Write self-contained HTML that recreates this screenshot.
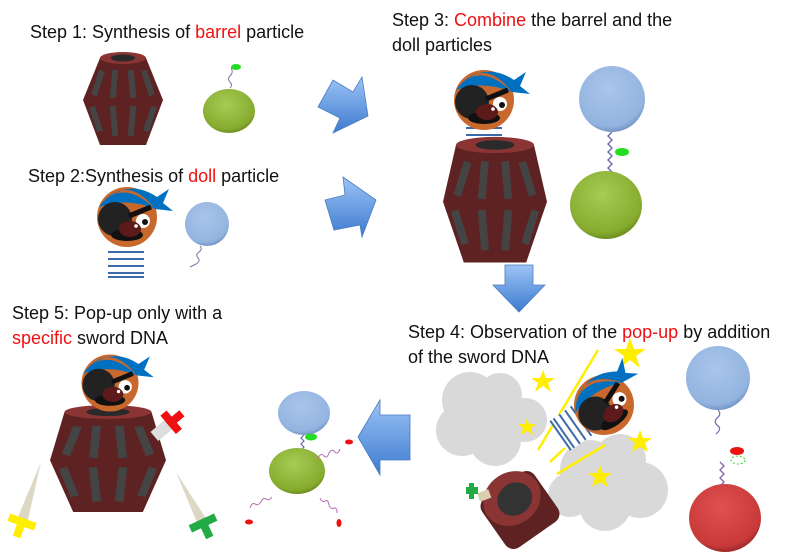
<!DOCTYPE html>
<html><head><meta charset="utf-8"><style>
html,body{margin:0;padding:0;background:#fff;}
svg{display:block;}
text{font-family:"Liberation Sans",sans-serif;font-size:18px;fill:#111;}
.r{fill:#ee1111;}
</style></head><body>
<svg width="800" height="557" viewBox="0 0 800 557" xmlns="http://www.w3.org/2000/svg">
<defs>
<linearGradient id="ga" x1="0" y1="0" x2="0" y2="1"><stop offset="0" stop-color="#9cc3f5"/><stop offset="1" stop-color="#3d7bd0"/></linearGradient>
<radialGradient id="gg" cx="0.45" cy="0.35" r="0.7"><stop offset="0" stop-color="#a6cc55"/><stop offset="0.8" stop-color="#86ab2e"/><stop offset="1" stop-color="#5f7f1a"/></radialGradient>
<radialGradient id="gb" cx="0.45" cy="0.35" r="0.7"><stop offset="0" stop-color="#a9c5ea"/><stop offset="0.8" stop-color="#93b4e0"/><stop offset="1" stop-color="#6587b8"/></radialGradient>
<radialGradient id="gr" cx="0.45" cy="0.35" r="0.7"><stop offset="0" stop-color="#e05050"/><stop offset="0.8" stop-color="#c83a3a"/><stop offset="1" stop-color="#8a2020"/></radialGradient>
<g id="stripes" fill="#444">
<rect x="-28" y="12" width="6" height="26" transform="rotate(18 -25 25)"/>
<rect x="-12" y="12" width="6" height="28" transform="rotate(5 -9 26)"/>
<rect x="6" y="12" width="6" height="28" transform="rotate(-5 9 26)"/>
<rect x="22" y="12" width="6" height="26" transform="rotate(-18 25 25)"/>
<rect x="-30" y="48" width="6" height="26" transform="rotate(-18 -27 61)"/>
<rect x="-12" y="48" width="6" height="30" transform="rotate(-5 -9 63)"/>
<rect x="6" y="48" width="6" height="30" transform="rotate(5 9 63)"/>
<rect x="24" y="48" width="6" height="26" transform="rotate(18 27 61)"/>
</g>
<g id="barrel">
<polygon points="-23,0 23,0 40,42 23,87 -23,87 -40,42" fill="#5e2222"/>
<ellipse cx="0" cy="0" rx="23" ry="6" fill="#8a3434"/>
<ellipse cx="0" cy="0" rx="12" ry="3.5" fill="#2a2a2a"/>
<use href="#stripes"/>
</g>
<g id="barrel2">
<polygon points="-30,0 30,0 40,42 24,87 -24,87 -40,42" fill="#5e2222"/>
<ellipse cx="0" cy="0" rx="30" ry="6" fill="#8a3434"/>
<ellipse cx="0" cy="0" rx="15" ry="3.5" fill="#2a2a2a"/>
<use href="#stripes"/>
</g>
<g id="head">
<circle cx="0" cy="0" r="30" fill="#c8682d"/>
<path d="M-27,-12 Q0,-44 28,-8 L46,-6 L36,-14 L42,-28 L30,-20 Q0,-40 -27,-12 Z" fill="#0070c0"/>
<path d="M-28,-10 Q-5,-40 28,-8 Q0,-20 -28,-10 Z" fill="#0070c0"/>
<circle cx="-12" cy="2" r="17" fill="#222"/>
<ellipse cx="0" cy="18" rx="16" ry="6" fill="#111"/>
<ellipse cx="16" cy="4" rx="7" ry="7" fill="#fff"/>
<circle cx="18" cy="5" r="3" fill="#111"/>
<line x1="2" y1="-1" x2="24" y2="-10" stroke="#111" stroke-width="5"/>
<ellipse cx="3" cy="12" rx="11" ry="8" fill="#5c1a1a"/>
<circle cx="9" cy="9" r="1.8" fill="#fff"/>
</g>
<g id="body">
<rect x="-18" y="0" width="36" height="30" fill="#fff"/>
<g fill="#3d6aa8"><rect x="-18" y="3" width="36" height="2"/><rect x="-18" y="10" width="36" height="2"/><rect x="-18" y="17" width="36" height="2"/><rect x="-18" y="24" width="36" height="2"/><rect x="-18" y="28" width="36" height="2"/></g>
</g>
</defs>

<!-- texts -->
<text x="30" y="38">Step 1: Synthesis of <tspan class="r">barrel</tspan> particle</text>
<text x="28" y="182">Step 2:Synthesis of <tspan class="r">doll</tspan> particle</text>
<text x="392" y="26">Step 3: <tspan class="r">Combine</tspan> the barrel and the</text>
<text x="392" y="51">doll particles</text>
<text x="408" y="338">Step 4: Observation of the <tspan class="r">pop-up</tspan> by addition</text>
<text x="408" y="363">of the sword DNA</text>
<text x="12" y="319">Step 5: Pop-up only with a</text>
<text x="12" y="344"> <tspan class="r">specific</tspan> sword DNA</text>

<!-- arrows -->
<polygon points="318,107 333,80 353,92 362,77 368,116 333,133 340,118" fill="url(#ga)" stroke="#4a7cc0" stroke-width="0.8"/>
<polygon points="325,200 345,195 343,177 376,200 362,237 360,225 334,230" fill="url(#ga)" stroke="#4a7cc0" stroke-width="0.8"/>
<polygon points="505,265 533,265 533,285 545,285 519,312 493,285 505,285" fill="url(#ga)" stroke="#4a7cc0" stroke-width="0.8"/>
<polygon points="358,437 380,400 380,415 410,415 410,460 380,460 380,475" fill="url(#ga)" stroke="#4a7cc0" stroke-width="0.8"/>

<!-- step 1 -->
<use href="#barrel" transform="translate(123,58)"/>
<path d="M230,88 q3,-3 0,-6 q-3,-3 0,-6 q3,-3 2,-6 q-2,-3 3,-4" fill="none" stroke="#7a7aa0" stroke-width="1"/>
<ellipse cx="236" cy="67" rx="5" ry="3" fill="#22dd22"/>
<ellipse cx="229" cy="111" rx="26" ry="22" fill="url(#gg)"/>

<!-- step 2 -->
<use href="#body" transform="translate(126,248)"/>
<use href="#head" transform="translate(127,217)"/>
<circle cx="207" cy="224" r="22" fill="url(#gb)"/>
<path d="M200,246 q3,3 -1,6 q-4,3 -1,6 q3,3 -2,6 q-4,2 -6,3" fill="none" stroke="#7a7aa0" stroke-width="1"/>

<!-- step 3 -->
<use href="#body" transform="translate(484,124)"/>
<use href="#barrel2" transform="translate(495,145) scale(1.3,1.35)"/>
<use href="#head" transform="translate(484,100)"/>
<circle cx="612" cy="99" r="33" fill="url(#gb)"/>
<path d="M612,132 l-4,4 l4,4 l-4,4 l4,4 l-4,4 l4,4 l-4,4 l4,4 l-4,4 l4,4" fill="none" stroke="#6a6ab0" stroke-width="1.4"/>
<ellipse cx="622" cy="152" rx="7" ry="4" fill="#22dd22"/>
<ellipse cx="606" cy="205" rx="36" ry="34" fill="url(#gg)"/>

<!-- step 4 -->
<g fill="#d9d9d9">
<circle cx="470" cy="400" r="28"/><circle cx="500" cy="395" r="22"/><circle cx="462" cy="430" r="26"/><circle cx="495" cy="440" r="26"/><circle cx="525" cy="420" r="22"/>
<circle cx="590" cy="470" r="30"/><circle cx="620" cy="460" r="26"/><circle cx="640" cy="490" r="28"/><circle cx="605" cy="505" r="26"/><circle cx="570" cy="495" r="22"/>
</g>
<g stroke="#ffee00" stroke-width="2.5"><line x1="598" y1="350" x2="538" y2="450"/><line x1="565" y1="448" x2="550" y2="462"/><line x1="605" y1="445" x2="557" y2="474"/></g>
<g fill="#ffee00">
<polygon points="630,338 634,349 646,349 636,356 640,368 630,360 620,368 624,356 614,349 626,349"/>
<polygon points="543,370 546,378 555,378 548,383 551,392 543,386 535,392 538,383 531,378 540,378"/>
<polygon points="527,418 529,424 536,424 531,428 533,435 527,431 521,435 523,428 518,424 525,424"/>
<polygon points="640,430 643,438 652,438 645,443 648,452 640,447 632,452 635,443 628,438 637,438"/>
<polygon points="600,465 603,473 612,473 605,478 608,487 600,482 592,487 595,478 588,473 597,473"/>
</g>
<g transform="translate(604,405) rotate(55)"><use href="#body" transform="translate(0,24)"/></g>
<g transform="translate(604,405) rotate(-35)"><use href="#head"/></g>
<g transform="translate(520,510) rotate(-35)">
<rect x="-32" y="-30" width="64" height="60" rx="10" fill="#5e2222"/>
<ellipse cx="0" cy="-14" rx="30" ry="26" fill="#8a3434"/>
<ellipse cx="2" cy="-12" rx="18" ry="16" fill="#333"/>
</g>
<rect x="478" y="491" width="12" height="9" fill="#d9ceb0" transform="rotate(-20 484 495)"/>
<g fill="#22aa44"><rect x="466" y="487" width="12" height="7"/><rect x="469" y="483" width="5" height="16"/></g>
<circle cx="718" cy="378" r="32" fill="url(#gb)"/>
<path d="M718,410 q4,4 -1,8 q-4,4 1,8 q4,3 -2,8" fill="none" stroke="#6a6ab0" stroke-width="1.2"/>
<path d="M724,490 l-4,-4 l4,-4 l-4,-4 l4,-4 l-4,-4 l4,-4 l-4,-4" fill="none" stroke="#8a6ab0" stroke-width="1.4"/>
<ellipse cx="737" cy="451" rx="7" ry="4" fill="#ee1111"/>
<ellipse cx="738" cy="460" rx="7" ry="4" fill="none" stroke="#22dd22" stroke-dasharray="2,2"/>
<ellipse cx="725" cy="518" rx="36" ry="34" fill="url(#gr)"/>

<!-- step 5 -->
<use href="#barrel2" transform="translate(108,412) scale(1.45,1.15)"/>
<use href="#head" transform="translate(110,383) scale(0.95)"/>
<g transform="translate(162,430) rotate(-40)"><rect x="-10" y="-6" width="18" height="12" fill="#ddd"/><rect x="8" y="-12" width="8" height="24" fill="#ee1111"/><rect x="8" y="-4" width="18" height="8" fill="#ee1111"/></g>
<polygon points="41,462 28,520 18,517" fill="#dcd8c4"/>
<g transform="translate(22,522) rotate(20)" fill="#ffee00"><rect x="-14" y="-4" width="28" height="8"/><rect x="-4" y="-4" width="8" height="20"/></g>
<polygon points="176,472 198,525 207,520" fill="#dcd8c4"/>
<g transform="translate(203,523) rotate(-25)" fill="#22aa44"><rect x="-14" y="-4" width="28" height="8"/><rect x="-4" y="-4" width="8" height="20"/></g>
<ellipse cx="304" cy="413" rx="26" ry="22" fill="url(#gb)"/>
<path d="M304,435 l-3,3 l3,3 l-3,3 l3,3 l-3,3 l3,3 l-3,3" fill="none" stroke="#6a6ab0" stroke-width="1.2"/>
<ellipse cx="311" cy="437" rx="6" ry="3.5" fill="#22dd22"/>
<ellipse cx="297" cy="471" rx="28" ry="23" fill="url(#gg)"/>
<g fill="none" stroke="#b070b0" stroke-width="1">
<path d="M318,458 q3,-6 6,-2 q3,3 5,-3 q3,-5 6,-1 q3,3 5,-3"/>
<path d="M272,497 q-3,4 -6,2 q-3,-2 -5,3 q-3,4 -6,2 q-3,-2 -5,4"/>
<path d="M320,498 q2,5 5,3 q3,-2 4,4 q2,5 5,3 q3,-1 3,5"/>
</g>
<g fill="#ee1111"><ellipse cx="349" cy="442" rx="4" ry="2.5"/><ellipse cx="249" cy="522" rx="4" ry="2.5"/><ellipse cx="339" cy="523" rx="2.5" ry="4"/></g>
</svg>
</body></html>
